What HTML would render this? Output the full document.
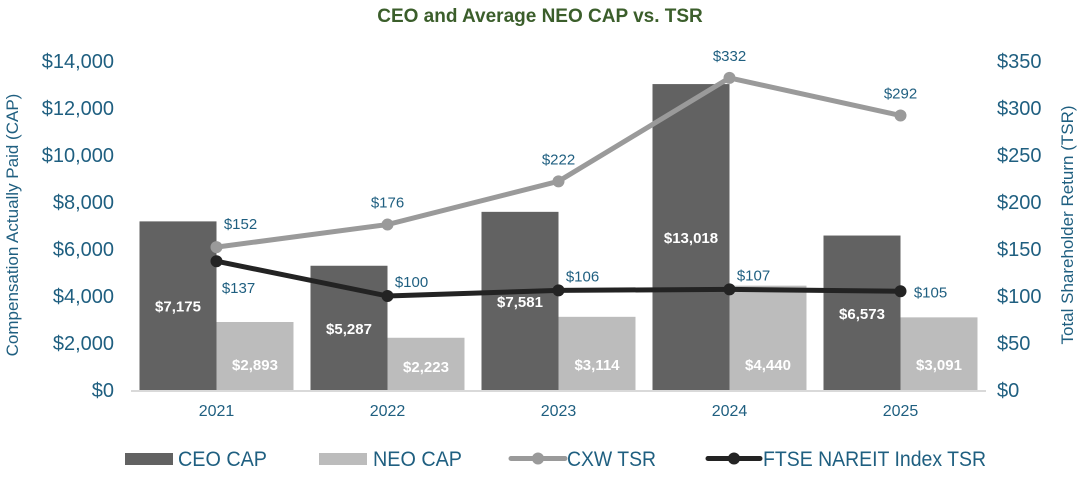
<!DOCTYPE html>
<html><head><meta charset="utf-8"><style>
body{margin:0;background:#fff;width:1080px;height:472px;overflow:hidden;font-family:"Liberation Sans",Arial,sans-serif}
svg text{font-family:"Liberation Sans",Arial,sans-serif}
</style></head><body>
<svg id="chart" width="1080" height="472">
<text x="540" y="22" text-anchor="middle" font-size="19" font-weight="bold" fill="#3b5e2b">CEO and Average NEO CAP vs. TSR</text>
<text transform="translate(18,225) rotate(-90)" text-anchor="middle" font-size="17" fill="#1f5f80">Compensation Actually Paid (CAP)</text>
<text transform="translate(1073,225) rotate(-90)" text-anchor="middle" font-size="17" fill="#1f5f80">Total Shareholder Return (TSR)</text>
<g id="g"></g>
</svg>
<script>
const years=["2021","2022","2023","2024","2025"];
const ceoCap=[7175,5287,7581,13018,6573];
const neoCap=[2893,2223,3114,4440,3091];
const cxwTsr=[152,176,222,332,292];
const ftseTsr=[137,100,106,107,105];
const leftTicks=[0,2000,4000,6000,8000,10000,12000,14000];
const rightTicks=[0,50,100,150,200,250,300,350];
const ceoLabels=["$7,175","$5,287","$7,581","$13,018","$6,573"];
const neoLabels=["$2,893","$2,223","$3,114","$4,440","$3,091"];

const NS="http://www.w3.org/2000/svg",g=document.getElementById('g');
const L=131,R=986,T=61,B=390;
const band=(R-L)/years.length;
const xc=i=>L+band*(i+0.5);
const yl=v=>B-(v/14000)*(B-T);
const yr=v=>B-(v/350)*(B-T);
function mk(t,a,txt){const e=document.createElementNS(NS,t);for(const k in a)e.setAttribute(k,a[k]);if(txt!==undefined)e.textContent=txt;g.appendChild(e);return e;}
const blue="#1f5f80";
leftTicks.forEach(v=>{const e=mk('text',{x:114,y:yl(v)+7,'text-anchor':'end','font-size':20,fill:blue},'$'+v.toLocaleString('en-US'));
});
rightTicks.forEach(v=>{const e=mk('text',{x:997,y:yr(v)+7,'font-size':20,fill:blue},'$'+v);
});
const bw=77;
years.forEach((y,i)=>{
 const c=xc(i);
 let e=mk('rect',{x:c-bw,y:yl(ceoCap[i]),width:bw,height:B-yl(ceoCap[i]),fill:'#626262'});
 
 e=mk('rect',{x:c,y:yl(neoCap[i]),width:bw,height:B-yl(neoCap[i]),fill:'#bcbcbc'});
 
 e=mk('text',{x:c-bw/2,y:yl(ceoCap[i]/2)+6,'text-anchor':'middle','font-size':15,'font-weight':'bold',fill:'#fff'},ceoLabels[i]);
 
 e=mk('text',{x:c+bw/2,y:Math.max(yl(neoCap[i]/2),B-28)+8,'text-anchor':'middle','font-size':15,'font-weight':'bold',fill:'#fff'},neoLabels[i]);
 
 e=mk('text',{x:c,y:416,'text-anchor':'middle','font-size':16,fill:blue},y);
 
});
let ax=mk('line',{x1:L,x2:R,y1:B+1,y2:B+1,stroke:'#d9d9d9','stroke-width':2});

function series(vals,col,name,offs){
 const p=mk('polyline',{points:vals.map((v,i)=>xc(i)+','+yr(v)).join(' '),fill:'none',stroke:col,'stroke-width':5});
 
 vals.forEach((v,i)=>{
  const c=mk('circle',{cx:xc(i),cy:yr(v),r:6,fill:col});
  
  const t=mk('text',{x:xc(i)+offs[i][0],y:yr(v)+offs[i][1],'text-anchor':'middle','font-size':15,fill:blue},'$'+v);
  
 });
}
series(cxwTsr,'#9a9a9a','cxw-tsr',[[24,-18],[0,-17],[0,-17],[0,-17],[0,-17]]);
series(ftseTsr,'#232323','ftse-tsr',[[22,32],[24,-9],[24,-9],[24,-9],[30,6]]);
function leg(x,w,type,col,label,name,tx,tl){
 if(type==='bar'){const r=mk('rect',{x:x,y:453,width:w,height:12,fill:col});}
 else{const l=mk('line',{x1:x,x2:x+w,y1:458.5,y2:458.5,stroke:col,'stroke-width':5,'stroke-linecap':'round'});
 const c=mk('circle',{cx:x+w/2,cy:458.5,r:6,fill:col});}
 const t=mk('text',{x:tx,y:466,'font-size':21,fill:blue,textLength:tl,lengthAdjust:'spacingAndGlyphs'},label);
}
leg(125,48,'bar','#626262','CEO CAP','ceo-cap',178,89);
leg(319,48,'bar','#bcbcbc','NEO CAP','neo-cap',373,89);
leg(511,54,'line','#9a9a9a','CXW TSR','cxw-tsr',567,89);
leg(708,52,'line','#232323','FTSE NAREIT Index TSR','ftse-tsr',763,223);
</script>
</body></html>
